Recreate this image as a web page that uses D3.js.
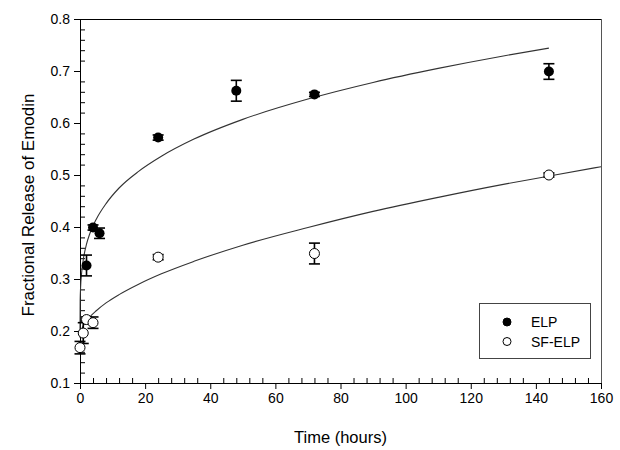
<!DOCTYPE html>
<html><head><meta charset="utf-8">
<script src="https://cdn.jsdelivr.net/npm/d3@7"></script>
<style>body{margin:0;background:#fff}svg{display:block}text{font-family:"Liberation Sans",Arial,sans-serif}</style>
</head><body>
<svg id="c" width="620" height="450"></svg>
<script>
// ELP measured data
const elpTime = [2, 4, 6, 24, 48, 72, 144];
const elpValue = [0.326, 0.399, 0.388, 0.572, 0.662, 0.655, 0.699];
const elpErr = [0.02, 0.005, 0.01, 0.005, 0.02, 0.004, 0.015];
// SF-ELP measured data
const sfTime = [0, 1, 2, 4, 24, 72, 144];
const sfValue = [0.168, 0.196, 0.222, 0.216, 0.342, 0.349, 0.500];
const sfErr = [0.012, 0.02, 0.005, 0.011, 0.005, 0.02, 0.004];
// Fitted curves
const elpFitTime = [0, 0.05, 0.2, 0.5, 1, 2, 3, 5, 8, 12, 18, 25, 35, 50, 70, 90, 110, 130, 144];
const elpFitValue = [0.193, 0.257, 0.286, 0.312, 0.337, 0.367, 0.387, 0.415, 0.445, 0.475, 0.507, 0.536, 0.569, 0.607, 0.646, 0.678, 0.705, 0.729, 0.744];
const sfFitTime = [0, 0.1, 0.3, 0.7, 1.5, 3, 5, 8, 12, 18, 25, 35, 50, 70, 90, 110, 130, 145, 160];
const sfFitValue = [0.187, 0.194, 0.199, 0.206, 0.215, 0.227, 0.239, 0.254, 0.270, 0.290, 0.310, 0.334, 0.365, 0.399, 0.430, 0.457, 0.482, 0.499, 0.516];
// Axis ticks
const xTicks = [0, 20, 40, 60, 80, 100, 120, 140, 160];
const yTicks = [0.1, 0.2, 0.3, 0.4, 0.5, 0.6, 0.7, 0.8];
const legendLabels = ["ELP", "SF-ELP"];

const svg = d3.select("#c");
const L = 80, R = 601, T = 19, B = 383;
const x = d3.scaleLinear().domain([0, 160]).range([L, R]);
const y = d3.scaleLinear().domain([0.1, 0.8]).range([B, T]);

// frame (top & right)
svg.append("line").attr("x1", L).attr("x2", R).attr("y1", T + 0.5).attr("y2", T + 0.5).attr("stroke", "#000");
svg.append("line").attr("x1", R + 0.5).attr("x2", R + 0.5).attr("y1", T).attr("y2", B).attr("stroke", "#555");

// minor ticks (inward)
const xMinor = d3.range(0, 161, 4).filter(v => v % 20 !== 0);
const yMinor = d3.range(10, 81, 2).map(v => v / 100).filter(v => Math.round(v * 100) % 10 !== 0);
const gx = svg.append("g").attr("transform", `translate(0,${B})`)
  .call(d3.axisBottom(x).tickValues(xTicks).tickSize(6).tickPadding(4).tickSizeOuter(0).tickFormat(d3.format("d")));
gx.append("g").call(d3.axisTop(x).tickValues(xMinor).tickSize(5).tickFormat("")).select(".domain").remove();
const gy = svg.append("g").attr("transform", `translate(${L},0)`)
  .call(d3.axisLeft(y).tickValues(yTicks).tickSize(6).tickPadding(4).tickSizeOuter(0).tickFormat(d3.format(".1f")));
gy.append("g").call(d3.axisRight(y).tickValues(yMinor).tickSize(5).tickFormat("")).select(".domain").remove();
svg.selectAll(".tick text").attr("font-size", 14).attr("fill", "#000").attr("font-family", "Liberation Sans, Arial, sans-serif");
svg.selectAll(".domain, .tick line").attr("stroke", "#000");

// axis titles
svg.append("text").attr("x", (L + R) / 2).attr("y", 443).attr("text-anchor", "middle").attr("font-size", 16.5).text("Time (hours)");
svg.append("text").attr("transform", `translate(30,205) rotate(-90)`).attr("text-anchor", "middle")
  .attr("dominant-baseline", "middle").attr("font-size", 17).text("Fractional Release of Emodin");

// fit curves
const line = d3.line().x(d => x(d[0])).y(d => y(d[1])).curve(d3.curveMonotoneX);
const g = svg.append("g");
g.append("path").datum(elpFitTime.map((t, i) => [t, elpFitValue[i]])).attr("d", line)
  .attr("fill", "none").attr("stroke", "#333").attr("stroke-width", 1.1);
g.append("path").datum(sfFitTime.map((t, i) => [t, sfFitValue[i]])).attr("d", line)
  .attr("fill", "none").attr("stroke", "#333").attr("stroke-width", 1.1);

function errBars(times, vals, errs) {
  const d = times.map((t, i) => ({ t, v: vals[i], e: errs[i] }));
  const eg = g.append("g").attr("stroke", "#000").attr("stroke-width", 1.6);
  eg.selectAll("line.v").data(d).join("line").attr("x1", a => x(a.t)).attr("x2", a => x(a.t))
    .attr("y1", a => y(a.v - a.e)).attr("y2", a => y(a.v + a.e));
  eg.selectAll("line.t").data(d).join("line").attr("x1", a => x(a.t) - 5.5).attr("x2", a => x(a.t) + 5.5)
    .attr("y1", a => y(a.v + a.e)).attr("y2", a => y(a.v + a.e));
  eg.selectAll("line.b").data(d).join("line").attr("x1", a => x(a.t) - 5.5).attr("x2", a => x(a.t) + 5.5)
    .attr("y1", a => y(a.v - a.e)).attr("y2", a => y(a.v - a.e));
}
errBars(sfTime, sfValue, sfErr);
errBars(elpTime, elpValue, elpErr);

g.selectAll("circle.sf").data(sfTime.map((t, i) => [t, sfValue[i]])).join("circle")
  .attr("cx", d => x(d[0])).attr("cy", d => y(d[1])).attr("r", 5)
  .attr("fill", "#fff").attr("stroke", "#000").attr("stroke-width", 1);
g.selectAll("circle.elp").data(elpTime.map((t, i) => [t, elpValue[i]])).join("circle")
  .attr("cx", d => x(d[0])).attr("cy", d => y(d[1])).attr("r", 5).attr("fill", "#000");

// legend
const lg = svg.append("g");
lg.append("rect").attr("x", 479.5).attr("y", 303.5).attr("width", 111).attr("height", 55)
  .attr("fill", "#fff").attr("stroke", "#444").attr("stroke-width", 1);
legendLabels.forEach((lab, i) => {
  const cy = 322 + i * 19.5;
  lg.append("circle").attr("cx", 507).attr("cy", cy).attr("r", 4)
    .attr("fill", i === 0 ? "#000" : "#fff").attr("stroke", "#000").attr("stroke-width", 1);
  lg.append("text").attr("x", 531).attr("y", cy).attr("dominant-baseline", "central").attr("font-size", 14).text(lab);
});
</script>
</body></html>
